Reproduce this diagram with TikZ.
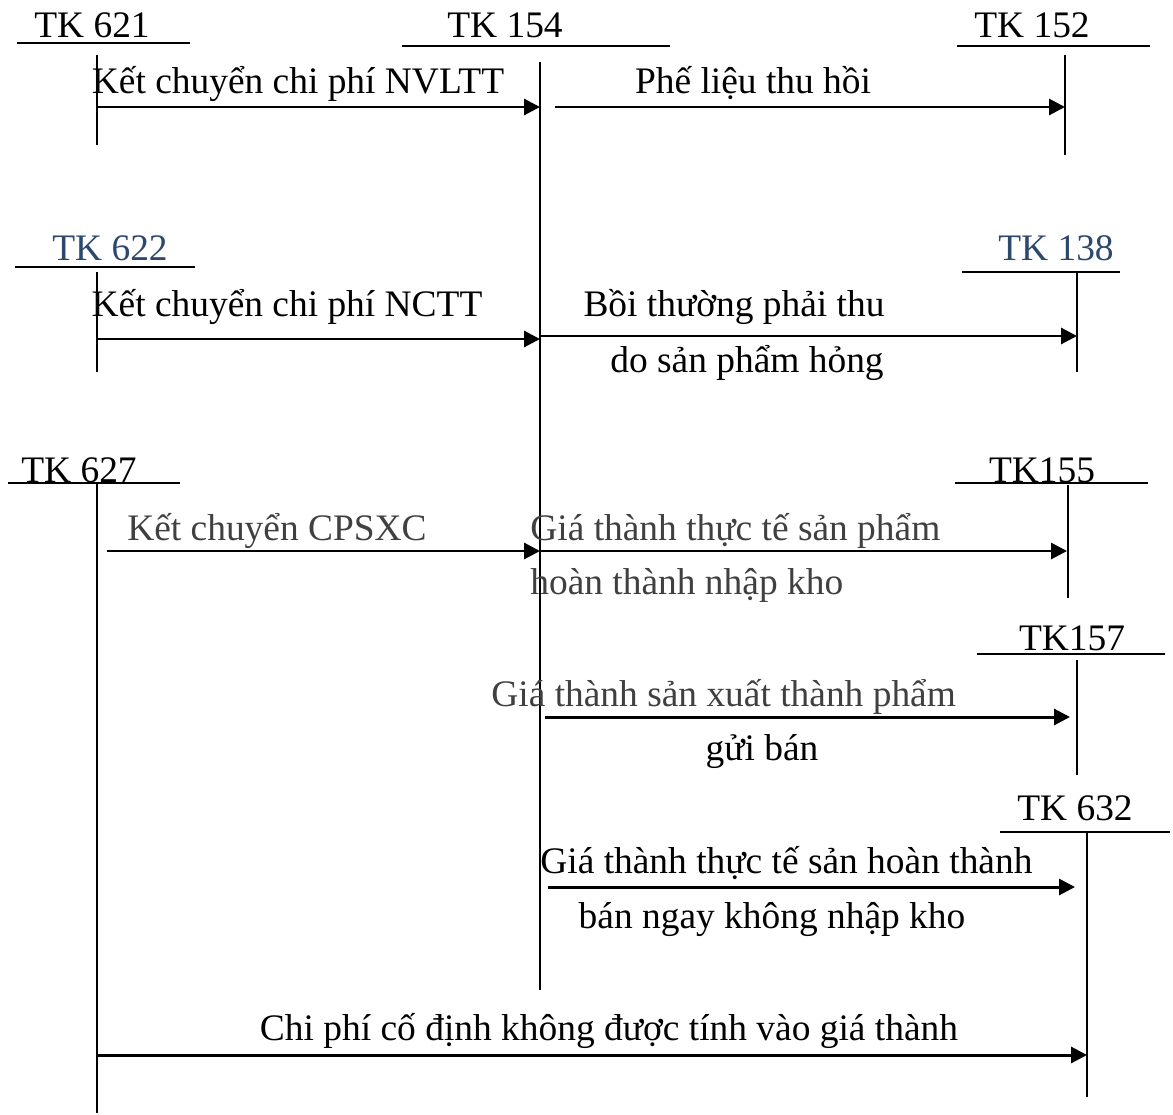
\documentclass[tikz,border=0pt]{standalone}
\usepackage{fontspec}
\setmainfont{Liberation Serif}
\usetikzlibrary{arrows.meta, calc}
\definecolor{tkblue}{RGB}{44,72,108}
\definecolor{tkgray}{RGB}{64,64,64}

\begin{document}
\begin{tikzpicture}[x=0.02cm, y=-0.02cm,
  acc/.style={line width=1.1pt},
  flow/.style={-{Triangle[length=9pt,width=9pt]}, line width=1.7pt},
  lbl/.style={anchor=base, inner sep=0pt, font=\fontsize{21.3}{25}\selectfont},
  lbll/.style={lbl, anchor=base west}]
\useasboundingbox (0,0) rectangle (1173,1115);

% T accounts: name/title/colour/text x/baseline/underline from/to/y/stem x/top/bottom
\foreach \n/\t/\c/\tx/\ty/\ul/\ur/\uy/\vx/\va/\vb in {
  621/TK 621/black/92/38/17/190/43/97/55/145,
  154/TK 154/black/505/38/402/670/46/540/62/990,
  152/TK 152/black/1032/38/957/1150/46/1065/55/155,
  622/TK 622/tkblue/110/260/15/195/267/97/272/372,
  138/TK 138/tkblue/1056/260/962/1120/272/1077/273/372,
  627/TK 627/black/79/482/8/180/483/97/483/1113,
  155/TK155/black/1042/482/955/1148/483/1068/485/598,
  157/TK157/black/1072/650/977/1165/654/1077/660/775,
  632/TK 632/black/1075/820/1000/1170/832/1087/832/1097}{
  \node[lbl, text=\c] (tk\n) at (\tx,\ty) {\t};
  \draw[acc] (\ul,\uy) coordinate (ul\n) -- (\ur,\uy) coordinate (ur\n);
  \draw[acc] (\vx,\va) coordinate (top\n) -- (\vx,\vb) coordinate (bot\n);
}

% rows of the entries
\coordinate (r1) at (0,107);
\coordinate (r2) at (0,339);
\coordinate (r2b) at (0,336);
\coordinate (r3) at (0,551);
\coordinate (r4) at (0,717);
\coordinate (r5) at (0,887);
\coordinate (r6) at (0,1055);

\draw[flow] (top621 |- r1) -- (top154 |- r1);
\draw[flow] ($(top154 |- r1)+(15,0)$) -- (top152 |- r1);
\draw[flow] (top622 |- r2) -- (top154 |- r2);
\draw[flow] (top154 |- r2b) -- (top138 |- r2b);
\draw[flow] ($(top627 |- r3)+(10,0)$) -- (top154 |- r3);
\draw[flow] (top154 |- r3) -- ($(top155 |- r3)+(-1,0)$);
\draw[flow] ($(top154 |- r4)+(5,0)$) -- ($(top157 |- r4)+(-7,0)$);
\draw[flow] ($(top154 |- r5)+(8,0)$) -- ($(top632 |- r5)+(-12,0)$);
\draw[flow] (top627 |- r6) -- (top632 |- r6);

% entry texts
\node[lbl] (nvl) at (298,93) {Kết chuyển chi phí NVLTT};
\node[lbl] (phe) at (753,93) {Phế liệu thu hồi};
\node[lbl] (nct) at (287,316) {Kết chuyển chi phí NCTT};
\node[lbl] (boi) at (734,316) {Bồi thường phải thu};
\node[lbl] (hong) at (747,372) {do sản phẩm hỏng};
\node[lbl, text=tkgray] (sxc) at (277,540) {Kết chuyển CPSXC};
\node[lbll, text=tkgray] (gtt) at (530,540) {Giá thành thực tế sản phẩm};
\node[lbll, text=tkgray] (nhap) at (530,594) {hoàn thành nhập kho};
\node[lbll, text=tkgray] (gsx) at (491,706) {Giá thành sản xuất thành phẩm};
\node[lbl] (gui) at (762,760) {gửi bán};
\node[lbll] (ght) at (540,873) {Giá thành thực tế sản hoàn thành};
\node[lbl] (ngay) at (772,928) {bán ngay không nhập kho};
\node[lbl] (cdinh) at (609,1040) {Chi phí cố định không được tính vào giá thành};
\end{tikzpicture}
\end{document}
